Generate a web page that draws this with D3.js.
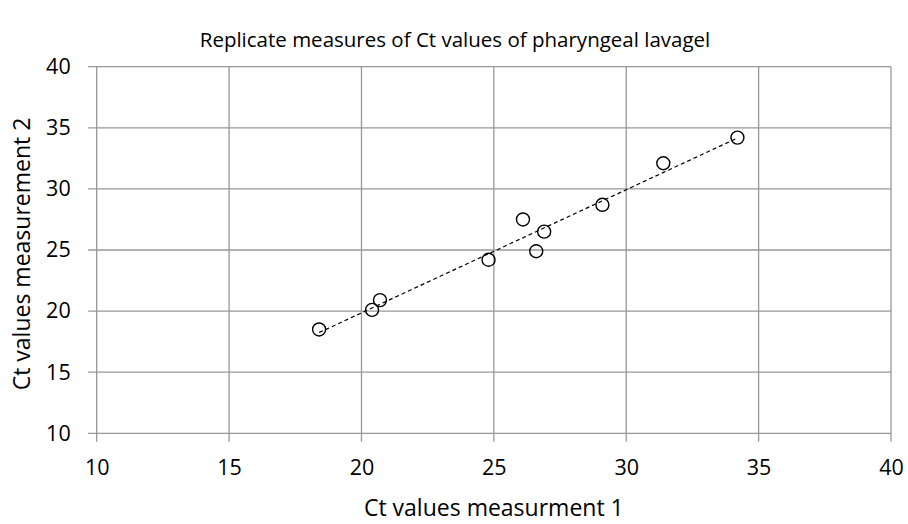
<!DOCTYPE html>
<html>
<head>
<meta charset="utf-8">
<script src="https://cdn.jsdelivr.net/npm/d3@7"></script>
<style>
  body { margin: 0; background: #fff; }
  text { font-family: "Open Sans", sans-serif; fill: #000; }
</style>
</head>
<body>
<div id="chart"></div>
<script>
// measurement 1 (x) and measurement 2 (y) for each sample
const ct1 = [18.4, 20.4, 20.7, 24.8, 26.1, 26.6, 26.9, 29.1, 31.4, 34.2];
const ct2 = [18.5, 20.1, 20.9, 24.2, 27.5, 24.9, 26.5, 28.7, 32.1, 34.2];
const xTicks = [10, 15, 20, 25, 30, 35, 40];
const yTicks = [10, 15, 20, 25, 30, 35, 40];

const W = 908, H = 524;
const margin = {t: 66.7, r: 17, b: 90.7, l: 96.7};
const width = W - margin.l - margin.r;
const height = H - margin.t - margin.b;

const svg = d3.select('#chart').append('svg').attr('width', W).attr('height', H);
const g = svg.append('g').attr('transform', `translate(${margin.l},${margin.t})`);

const x = d3.scaleLinear().domain([10, 40]).range([0, width]);
const y = d3.scaleLinear().domain([10, 40]).range([height, 0]);

const gridColor = '#989898';

// grid
g.append('g').selectAll('line').data(yTicks).join('line')
  .attr('x1', -8.5).attr('x2', width)
  .attr('y1', d => y(d)).attr('y2', d => y(d))
  .attr('stroke', gridColor).attr('stroke-width', 1.3);
g.append('g').selectAll('line').data(xTicks).join('line')
  .attr('x1', d => x(d)).attr('x2', d => x(d))
  .attr('y1', 0).attr('y2', height + 8.5)
  .attr('stroke', gridColor).attr('stroke-width', 1.3);

// axis labels
g.append('g').attr('transform', `translate(0,${height})`)
  .call(d3.axisBottom(x).tickValues(xTicks).tickSize(0).tickPadding(26))
  .call(a => a.select('.domain').remove())
  .call(a => a.selectAll('text').attr('font-size', 21.5).attr('font-family', '"Open Sans", sans-serif'));
g.append('g')
  .call(d3.axisLeft(y).tickValues(yTicks).tickSize(0).tickPadding(26))
  .call(a => a.select('.domain').remove())
  .call(a => a.selectAll('text').attr('font-size', 21.5).attr('font-family', '"Open Sans", sans-serif'));

// trend line (least squares)
const mx = d3.mean(ct1), my = d3.mean(ct2);
const slope = d3.sum(ct1, (v, i) => (v - mx) * (ct2[i] - my)) / d3.sum(ct1, v => (v - mx) ** 2);
const icpt = my - slope * mx;
const [x0, x1] = d3.extent(ct1);
g.append('line')
  .attr('x1', x(x0)).attr('y1', y(icpt + slope * x0))
  .attr('x2', x(x1)).attr('y2', y(icpt + slope * x1))
  .attr('stroke', '#000').attr('stroke-width', 1.2)
  .attr('stroke-dasharray', '4 3');

// points
g.append('g').selectAll('circle').data(ct1).join('circle')
  .attr('cx', d => x(d))
  .attr('cy', (d, i) => y(ct2[i]))
  .attr('r', 6.5)
  .attr('fill', 'none')
  .attr('stroke', '#000').attr('stroke-width', 1.4);

// titles
svg.append('text').attr('x', 455).attr('y', 47).attr('text-anchor', 'middle')
  .attr('font-size', 20.5).text('Replicate measures of Ct values of pharyngeal lavagel');
svg.append('text').attr('x', margin.l + width / 2).attr('y', 516).attr('text-anchor', 'middle')
  .attr('font-size', 23).text('Ct values measurment 1');
svg.append('text').attr('transform', `translate(30,${margin.t + height / 2 + 4}) rotate(-90)`)
  .attr('text-anchor', 'middle')
  .attr('font-size', 23).text('Ct values measurement 2');
</script>
</body>
</html>
